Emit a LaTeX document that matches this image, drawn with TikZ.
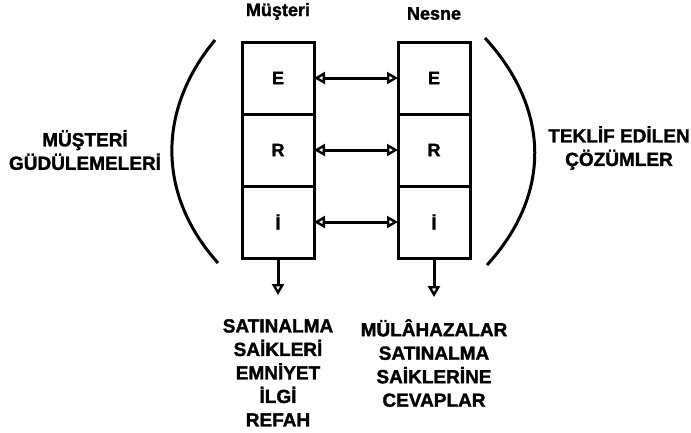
\documentclass[tikz,border=0pt]{standalone}
\usepackage{fontspec}
\setmainfont{Liberation Sans}[BoldFeatures={FakeBold=1.6}]
\usetikzlibrary{arrows.meta, positioning}

\begin{document}
\begin{tikzpicture}[
    x=1pt, y=-1pt,
    node distance=0pt and 84pt,
    cell/.style={rectangle, draw, line width=3pt, outer sep=0pt, minimum width=72pt, minimum height=72pt, font=\bfseries\fontsize{18}{18}\selectfont},
    note/.style={align=center, inner sep=0pt, font=\bfseries\fontsize{19}{23.5}\selectfont},
    head/.style={inner sep=0pt, font=\bfseries\fontsize{18}{18}\selectfont},
    line/.style={draw, line width=3pt, {Triangle[open, length=11pt, width=12pt, line width=2.4pt]}-{Triangle[open, length=11pt, width=12pt, line width=2.4pt]}},
    downline/.style={draw, line width=3pt, -{Triangle[open, length=11pt, width=12pt, line width=2.4pt]}},
    bracket/.style={draw, line width=3pt}
]
    \useasboundingbox (0,0) rectangle (691,432);

    % Columns
    \node[cell] (me) at (278,78) {E};
    \node[cell, below=of me] (mr) {R};
    \node[cell, below=of mr] (mi) {İ};
    \node[cell, right=of me] (ne) {E};
    \node[cell, below=of ne] (nr) {R};
    \node[cell, below=of nr] (ni) {İ};

    \node[head, above=22pt of me] {Müşteri};
    \node[head, above=22pt of ne] {Nesne};

    % Connections
    \path[line] (me) -- (ne);
    \path[line] (mr) -- (nr);
    \path[line] (mi) -- (ni);

    \coordinate[below=37pt of mi] (mend);
    \coordinate[below=39pt of ni] (nend);
    \path[downline] (mi) -- (mend);
    \path[downline] (ni) -- (nend);

    % Texts below
    \node[note, below=24pt of mend] (mwhy) {SATINALMA\\SAİKLERİ\\EMNİYET\\İLGİ\\REFAH};
    \node[note, below=22pt of nend] (nwhy) {MÜLÂHAZALAR\\SATINALMA\\SAİKLERİNE\\CEVAPLAR};

    % Brackets and side texts
    \draw[bracket] (215,40) .. controls (157,110) and (157,195) .. (218,263);
    \draw[bracket] (485,38) .. controls (551,110) and (551,195) .. (487,265);

    \node[note] (motive) at (85,150) {MÜŞTERİ\\GÜDÜLEMELERİ};
    \node[note] (offer) at (619,148) {TEKLİF EDİLEN\\ÇÖZÜMLER};
\end{tikzpicture}
\end{document}
